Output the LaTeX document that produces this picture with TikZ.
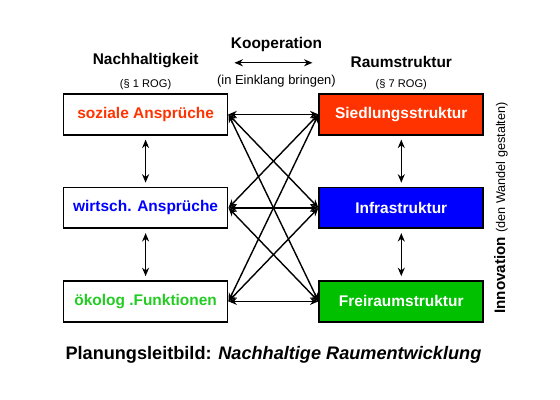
\documentclass[tikz,border=0pt]{standalone}
\usepackage{fontspec}
\setmainfont{Liberation Sans}
\usetikzlibrary{positioning,arrows.meta}
\definecolor{siedred}{HTML}{FF3300}
\definecolor{infblue}{HTML}{0000FF}
\definecolor{freigreen}{HTML}{00C000}
\definecolor{oekogreen}{HTML}{22CC22}

\begin{document}
\begin{tikzpicture}[node distance=12.75mm and 22.5mm, every node/.style={font=\fontsize{11}{13}\selectfont\bfseries}]
\useasboundingbox (0,0) rectangle (14,10);
\tikzset{box/.style={draw, line width=1.2pt, minimum width=4.1cm, minimum height=1.02cm, inner sep=0pt},
  link/.style={{Stealth[length=6pt,width=5pt]}-{Stealth[length=6pt,width=5pt]}, line width=1pt},
  head/.style={font=\fontsize{11}{13}\selectfont\bfseries, inner sep=0pt},
  note/.style={font=\fontsize{7.9}{9}\selectfont, inner sep=0pt}}
% Nachhaltigkeit
\node[box, text=siedred] (soz) at (3.64,7.14) {soziale Ansprüche};
\node[box, text=infblue, below=of soz] (wirt) {wirtsch. Ansprüche};
\node[box, text=oekogreen, below=of wirt] (oeko) {ökolog .Funktionen};
% Raumstruktur
\node[box, fill=siedred, text=white, right=of soz] (sied) {Siedlungsstruktur};
\node[box, fill=infblue, text=white, right=of wirt] (infra) {Infrastruktur};
\node[box, fill=freigreen, text=white, right=of oeko] (frei) {Freiraumstruktur};
% headings
\node[note, above=0.7mm of soz] (rog1) {(§ 1 ROG)};
\node[head, above=2.9mm of rog1] (nach) {Nachhaltigkeit};
\node[note, above=0.7mm of sied] (rog7) {(§ 7 ROG)};
\node[head, above=2.9mm of rog7] (raum) {Raumstruktur};
\path (soz.east) -- (sied.west) coordinate[midway] (mid);
\node[note, font=\fontsize{9.2}{11}\selectfont] (einklang) at ([shift={(0.75mm,8.4mm)}]mid) {(in Einklang bringen)};
\node[head] (koop) at ([yshift=9mm]einklang.center) {Kooperation};
\coordinate (kl) at ([shift={(-10.5mm,4.5mm)}]einklang.center);
\coordinate (kr) at ([shift={(9mm,4.5mm)}]einklang.center);
\draw[link] (kl) -- (kr);
\node[rotate=90, inner sep=0pt] (innov) at ([xshift=4.2mm]infra.east) {\fontsize{10.8}{13}\selectfont Innovation \fontsize{9}{11}\selectfont\mdseries(den Wandel gestalten)};
\path (oeko) -- (frei) coordinate[midway] (midb);
\node[head, font=\fontsize{12.9}{15}\selectfont\bfseries] (leit) at ([yshift=-13.3mm]midb) {Planungsleitbild: \textit{Nachhaltige Raumentwicklung}};
% connectors
\foreach \a in {soz,wirt,oeko}
  \foreach \b in {sied,infra,frei}
    \draw[link] (\a.east) -- (\b.west);
\draw[link] ([yshift=-1mm]soz.south) -- ([yshift=1mm]wirt.north);
\draw[link] ([yshift=-1mm]wirt.south) -- ([yshift=1mm]oeko.north);
\draw[link] ([yshift=-1mm]sied.south) -- ([yshift=1mm]infra.north);
\draw[link] ([yshift=-1mm]infra.south) -- ([yshift=1mm]frei.north);
\end{tikzpicture}
\end{document}
